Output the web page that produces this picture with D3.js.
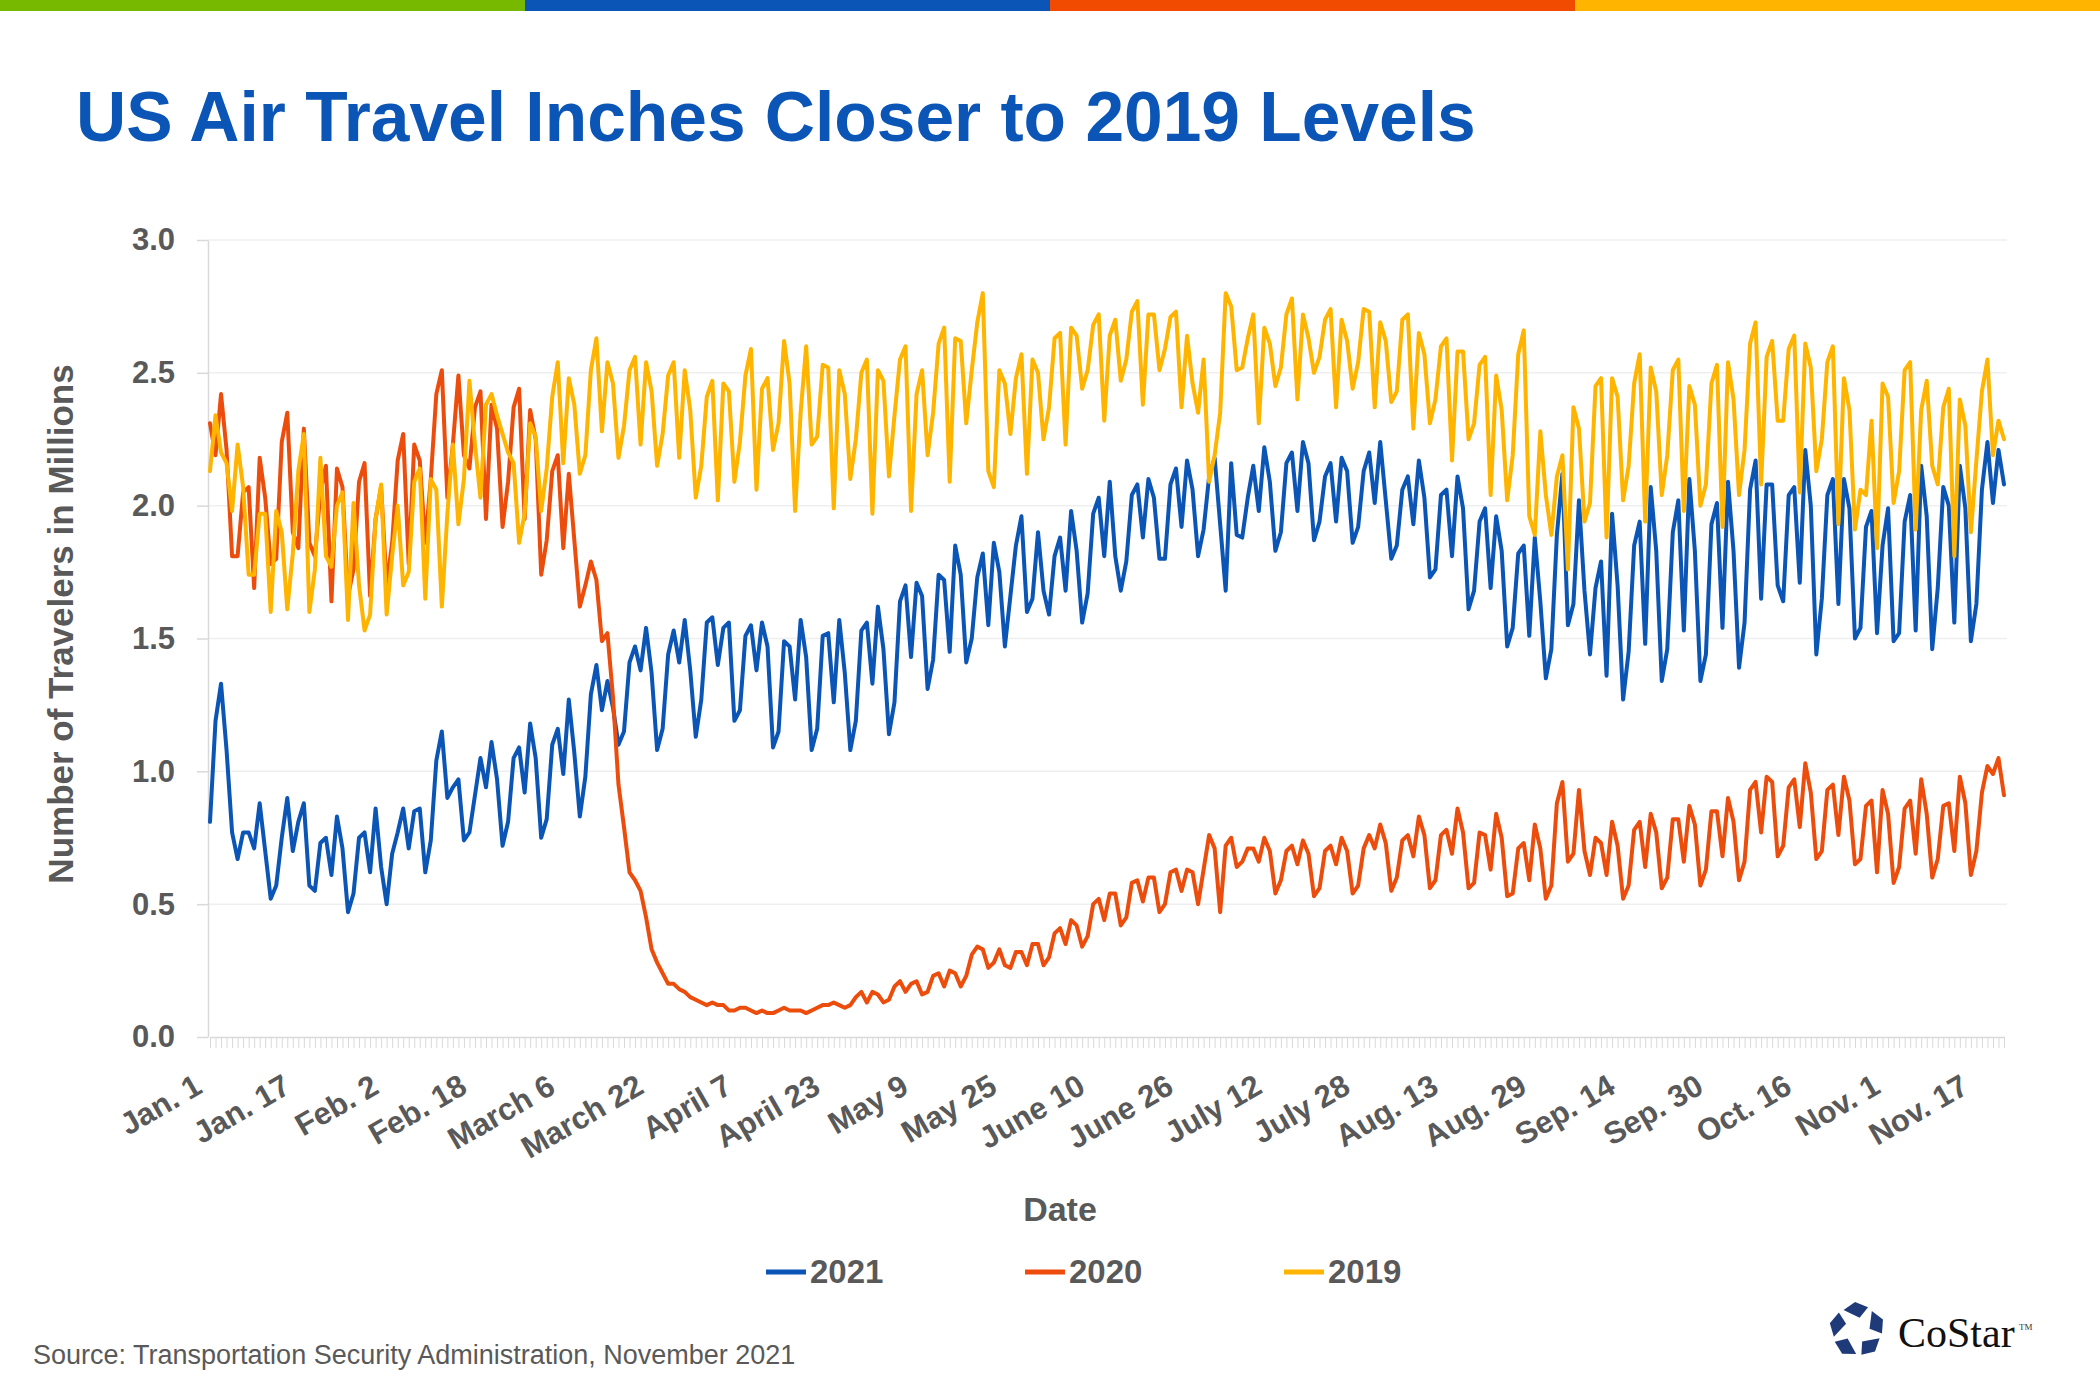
<!DOCTYPE html>
<html><head><meta charset="utf-8">
<script src="https://cdn.jsdelivr.net/npm/d3@7"></script>
<style>
body{margin:0;background:#fff;}
</style>
</head><body>
<svg id="chart" width="2100" height="1400" style="font-family:'Liberation Sans',Arial,Helvetica,sans-serif"></svg>
<script>
// ---------------- DATA ----------------
const titleText = "US Air Travel Inches Closer to 2019 Levels";
const tickLabels = ["Jan. 1","Jan. 17","Feb. 2","Feb. 18","March 6","March 22","April 7","April 23","May 9","May 25","June 10","June 26","July 12","July 28","Aug. 13","Aug. 29","Sep. 14","Sep. 30","Oct. 16","Nov. 1","Nov. 17"];
const tickStepDays = 16;
const yTicks = [0, 0.5, 1.0, 1.5, 2.0, 2.5, 3.0];
const seriesNames = ["2021", "2020", "2019"];
const seriesColors = ["#0a55b5", "#ec4d0c", "#ffb400"];
const topBarColors = ["#76b900", "#0a55b5", "#f04b00", "#ffb500"];

// daily travelers (millions), Jan 1 .. Nov 22
const v2021 = [
0.81,1.19,1.33,1.08,0.77,0.67,0.77,0.77,0.71,0.88,
0.70,0.52,0.57,0.75,0.90,0.70,0.81,0.88,0.57,0.55,
0.73,0.75,0.61,0.83,0.71,0.47,0.54,0.75,0.77,0.62,
0.86,0.64,0.50,0.69,0.77,0.86,0.71,0.85,0.86,0.62,
0.74,1.04,1.15,0.90,0.94,0.97,0.74,0.77,0.91,1.05,
0.94,1.11,0.97,0.72,0.81,1.05,1.09,0.92,1.18,1.05,
0.75,0.82,1.10,1.16,0.99,1.27,1.07,0.83,0.98,1.29,
1.40,1.23,1.34,1.24,1.10,1.15,1.41,1.47,1.38,1.54,
1.37,1.08,1.16,1.44,1.53,1.41,1.57,1.38,1.13,1.27,
1.56,1.58,1.40,1.54,1.56,1.19,1.23,1.51,1.55,1.38,
1.56,1.47,1.09,1.15,1.49,1.47,1.27,1.57,1.43,1.08,
1.16,1.51,1.52,1.26,1.57,1.37,1.08,1.19,1.53,1.56,
1.33,1.62,1.46,1.14,1.26,1.64,1.70,1.43,1.71,1.66,
1.31,1.42,1.74,1.72,1.45,1.85,1.74,1.41,1.50,1.73,
1.82,1.55,1.86,1.75,1.47,1.66,1.85,1.96,1.60,1.65,
1.90,1.68,1.59,1.81,1.88,1.68,1.98,1.83,1.56,1.67,
1.97,2.03,1.81,2.09,1.81,1.68,1.79,2.04,2.08,1.88,
2.10,2.03,1.80,1.80,2.08,2.14,1.92,2.17,2.06,1.81,
1.91,2.11,2.18,1.93,1.68,2.16,1.89,1.88,2.03,2.15,
1.98,2.22,2.09,1.83,1.90,2.16,2.20,1.98,2.24,2.16,
1.87,1.94,2.11,2.16,1.94,2.18,2.13,1.86,1.92,2.13,
2.20,2.01,2.24,2.02,1.80,1.85,2.06,2.11,1.93,2.17,
2.03,1.73,1.76,2.04,2.06,1.81,2.11,1.99,1.61,1.68,
1.94,1.99,1.69,1.96,1.83,1.47,1.54,1.82,1.85,1.51,
1.88,1.64,1.35,1.46,1.89,2.12,1.55,1.63,2.02,1.68,
1.44,1.69,1.79,1.36,1.97,1.70,1.27,1.45,1.85,1.94,
1.48,2.07,1.83,1.34,1.46,1.90,2.02,1.53,2.10,1.83,
1.34,1.44,1.93,2.01,1.54,2.09,1.83,1.39,1.56,2.06,
2.17,1.65,2.08,2.08,1.70,1.64,2.04,2.07,1.71,2.21,
2.00,1.44,1.65,2.04,2.10,1.63,2.10,1.99,1.50,1.54,
1.92,1.98,1.52,1.85,1.99,1.49,1.52,1.94,2.04,1.53,
2.15,1.96,1.46,1.69,2.07,2.00,1.56,2.15,1.99,1.49,
1.63,2.06,2.24,2.01,2.21,2.08
];
const v2020 = [
2.31,2.19,2.42,2.21,1.81,1.81,2.05,2.07,1.69,2.18,
2.03,1.78,1.80,2.24,2.35,1.90,1.84,2.29,1.86,1.81,
2.05,2.15,1.64,2.14,2.07,1.66,1.76,2.09,2.16,1.66,
1.95,2.07,1.70,1.86,2.17,2.27,1.78,2.23,2.17,1.86,
2.10,2.42,2.51,2.03,2.23,2.49,2.19,2.14,2.37,2.43,
1.95,2.38,2.29,1.92,2.09,2.37,2.44,1.95,2.36,2.25,
1.74,1.87,2.13,2.19,1.84,2.12,1.87,1.62,1.70,1.79,
1.72,1.49,1.52,1.28,0.95,0.79,0.62,0.59,0.55,0.45,
0.33,0.28,0.24,0.20,0.20,0.18,0.17,0.15,0.14,0.13,
0.12,0.13,0.12,0.12,0.10,0.10,0.11,0.11,0.10,0.09,
0.10,0.09,0.09,0.10,0.11,0.10,0.10,0.10,0.09,0.10,
0.11,0.12,0.12,0.13,0.12,0.11,0.12,0.15,0.17,0.13,
0.17,0.16,0.13,0.14,0.19,0.21,0.17,0.20,0.21,0.16,
0.17,0.23,0.24,0.19,0.25,0.24,0.19,0.23,0.31,0.34,
0.33,0.26,0.28,0.33,0.27,0.26,0.32,0.32,0.27,0.35,
0.35,0.27,0.30,0.39,0.41,0.35,0.44,0.42,0.34,0.38,
0.50,0.52,0.44,0.54,0.54,0.42,0.45,0.58,0.59,0.51,
0.60,0.60,0.47,0.50,0.62,0.63,0.55,0.63,0.62,0.50,
0.63,0.76,0.71,0.47,0.72,0.75,0.64,0.66,0.71,0.71,
0.66,0.75,0.70,0.54,0.59,0.70,0.72,0.65,0.74,0.69,
0.53,0.56,0.70,0.72,0.65,0.75,0.70,0.54,0.57,0.71,
0.76,0.71,0.80,0.73,0.55,0.60,0.74,0.76,0.68,0.83,
0.76,0.56,0.59,0.76,0.78,0.69,0.86,0.77,0.56,0.58,
0.77,0.76,0.63,0.84,0.75,0.53,0.54,0.71,0.73,0.59,
0.80,0.71,0.52,0.57,0.88,0.96,0.66,0.69,0.93,0.70,
0.61,0.75,0.73,0.61,0.81,0.72,0.52,0.57,0.78,0.81,
0.64,0.84,0.77,0.56,0.60,0.82,0.82,0.66,0.87,0.80,
0.57,0.63,0.85,0.85,0.68,0.90,0.81,0.59,0.66,0.93,
0.96,0.77,0.98,0.96,0.68,0.72,0.94,0.97,0.79,1.03,
0.92,0.67,0.70,0.93,0.95,0.76,0.98,0.89,0.65,0.67,
0.87,0.89,0.62,0.93,0.84,0.58,0.64,0.86,0.89,0.69,
0.97,0.84,0.60,0.67,0.87,0.88,0.70,0.98,0.88,0.61,
0.70,0.92,1.02,0.99,1.05,0.91
];
const v2019 = [
2.13,2.34,2.20,2.16,1.98,2.23,2.07,1.74,1.74,1.97,
1.97,1.60,1.98,1.90,1.61,1.82,2.13,2.27,1.60,1.76,
2.18,1.81,1.77,2.00,2.05,1.57,2.01,1.70,1.53,1.59,
1.95,2.08,1.59,1.81,2.00,1.70,1.75,2.09,2.14,1.65,
2.10,2.06,1.62,1.97,2.23,1.93,2.10,2.47,2.23,2.03,
2.38,2.42,2.34,2.27,2.20,2.16,1.86,1.97,2.31,2.26,
1.98,2.14,2.41,2.54,2.16,2.48,2.38,2.12,2.19,2.51,
2.63,2.28,2.54,2.46,2.18,2.30,2.51,2.56,2.23,2.54,
2.43,2.15,2.27,2.49,2.54,2.18,2.51,2.36,2.03,2.15,
2.41,2.47,2.02,2.46,2.43,2.09,2.24,2.49,2.59,2.06,
2.44,2.48,2.21,2.31,2.62,2.46,1.98,2.35,2.60,2.23,
2.26,2.53,2.52,1.99,2.51,2.42,2.10,2.25,2.50,2.55,
1.97,2.51,2.47,2.11,2.34,2.55,2.60,1.98,2.42,2.51,
2.19,2.35,2.61,2.67,2.09,2.63,2.62,2.31,2.51,2.69,
2.80,2.13,2.07,2.51,2.46,2.27,2.48,2.57,2.12,2.55,
2.50,2.25,2.37,2.63,2.65,2.23,2.67,2.64,2.44,2.51,
2.68,2.72,2.32,2.64,2.70,2.47,2.55,2.73,2.77,2.38,
2.72,2.72,2.51,2.59,2.71,2.73,2.37,2.64,2.46,2.35,
2.55,2.09,2.19,2.35,2.80,2.75,2.51,2.52,2.63,2.72,
2.31,2.67,2.61,2.45,2.52,2.72,2.78,2.40,2.72,2.63,
2.50,2.56,2.70,2.74,2.37,2.70,2.62,2.44,2.54,2.74,
2.73,2.37,2.69,2.62,2.39,2.43,2.70,2.72,2.29,2.65,
2.57,2.31,2.40,2.60,2.63,2.17,2.58,2.58,2.25,2.31,
2.53,2.56,2.04,2.49,2.36,2.02,2.19,2.57,2.66,1.96,
1.89,2.28,2.04,1.89,2.11,2.19,1.76,2.37,2.29,1.94,
2.01,2.45,2.48,1.88,2.48,2.41,2.02,2.15,2.46,2.57,
1.94,2.52,2.43,2.04,2.19,2.51,2.55,1.98,2.45,2.38,
2.00,2.08,2.46,2.53,1.92,2.54,2.40,2.04,2.21,2.61,
2.69,2.08,2.56,2.62,2.32,2.32,2.59,2.64,2.05,2.61,
2.52,2.13,2.25,2.54,2.60,1.93,2.48,2.36,1.91,2.06,
2.04,2.32,1.84,2.46,2.41,2.01,2.13,2.51,2.54,1.91,
2.36,2.47,2.15,2.08,2.37,2.44,1.81,2.40,2.30,1.90,
2.17,2.43,2.55,2.19,2.32,2.25
];
const seriesValues = [v2021, v2020, v2019];

// ---------------- DRAW ----------------
const W = 2100, H = 1400;
const gray = "#595959";
const SANS = "'Liberation Sans', Arial, Helvetica, sans-serif";
const SERIF = "'Liberation Serif', 'Times New Roman', serif";
const svg = d3.select("#chart");
svg.append("rect").attr("width", W).attr("height", H).attr("fill", "#fff");

// top colour bar
const bx = d3.scaleBand().domain(d3.range(topBarColors.length)).range([0, W]);
svg.append("g").selectAll("rect").data(topBarColors).join("rect")
  .attr("x", (d, i) => bx(i)).attr("y", 0)
  .attr("width", bx.bandwidth() + 0.5).attr("height", 11)
  .attr("fill", d => d);

// title
svg.append("text").attr("x", 76).attr("y", 141)
  .attr("font-size", 69.5).attr("font-weight", "bold").attr("fill", "#0a55b5")
  .style("font-family", SANS)
  .text(titleText);

const N = v2021.length;
const x = d3.scaleLinear().domain([0, N - 1]).range([210, 2004]);
const y = d3.scaleLinear().domain([0, 3]).range([1037, 240]);

// gridlines
svg.append("g").selectAll("line").data(yTicks.filter(d => d > 0)).join("line")
  .attr("x1", 208).attr("x2", 2007)
  .attr("y1", d => y(d)).attr("y2", d => y(d))
  .attr("stroke", "#efefef").attr("stroke-width", 1.5);

// y axis
const gy = svg.append("g").attr("transform", "translate(208,0)")
  .call(d3.axisLeft(y).tickValues(yTicks).tickFormat(d3.format(".1f"))
    .tickSize(11).tickSizeOuter(0).tickPadding(22));
gy.select(".domain").attr("stroke", "#d9d9d9").attr("stroke-width", 1.5);
gy.selectAll(".tick line").attr("stroke", "#d9d9d9").attr("stroke-width", 1.5);
gy.selectAll(".tick text").attr("font-size", 31).attr("font-weight", "bold")
  .attr("fill", gray).style("font-family", SANS);

// x axis (daily tick marks)
const gx = svg.append("g").attr("transform", `translate(0,${y(0)})`)
  .call(d3.axisBottom(x).tickValues(d3.range(0, N)).tickSize(11).tickSizeOuter(0).tickFormat(""));
gx.select(".domain").attr("stroke", "#d9d9d9").attr("stroke-width", 1.5);
gx.selectAll(".tick line").attr("stroke", "#d9d9d9").attr("stroke-width", 1);

// x labels
svg.append("g").selectAll("text").data(tickLabels).join("text")
  .attr("transform", (d, i) => `translate(${x(i * tickStepDays) - 6},${y(0) + 55}) rotate(-30)`)
  .attr("text-anchor", "end").attr("font-size", 31).attr("font-weight", "bold").attr("fill", gray)
  .style("font-family", SANS)
  .text(d => d);

// axis titles
svg.append("text").attr("x", 1060).attr("y", 1221).attr("text-anchor", "middle")
  .attr("font-size", 34).attr("font-weight", "bold").attr("fill", gray)
  .style("font-family", SANS).text("Date");
svg.append("text").attr("transform", "translate(73,624) rotate(-90)").attr("text-anchor", "middle")
  .attr("font-size", 35).attr("font-weight", "bold").attr("fill", gray)
  .style("font-family", SANS)
  .text("Number of Travelers in Millions");

// lines
const line = d3.line().x((d, i) => x(i)).y(d => y(d));
svg.append("g").selectAll("path").data(seriesValues).join("path")
  .attr("d", d => line(d)).attr("fill", "none")
  .attr("stroke", (d, i) => seriesColors[i]).attr("stroke-width", 4)
  .attr("stroke-linejoin", "round").attr("stroke-linecap", "round");

// legend
const lg = svg.append("g").selectAll("g").data(seriesNames).join("g")
  .attr("transform", (d, i) => `translate(${766 + i * 259},1272)`);
lg.append("line").attr("x1", 0).attr("x2", 40).attr("y1", 0).attr("y2", 0)
  .attr("stroke", (d, i) => seriesColors[i]).attr("stroke-width", 5);
lg.append("text").attr("x", 44).attr("y", 11).attr("font-size", 33).attr("font-weight", "bold")
  .attr("fill", gray).style("font-family", SANS).text(d => d);

// source
svg.append("text").attr("x", 33).attr("y", 1364).attr("font-size", 27).attr("fill", gray)
  .style("font-family", SANS)
  .text("Source: Transportation Security Administration, November 2021");

// CoStar logo
const cx = 1857, cy = 1330, R = 28;
const P = (a, r) => [cx + r * Math.cos(a * Math.PI / 180), cy + r * Math.sin(a * Math.PI / 180)];
const pieces = d3.range(5).map(k => {
  const a = -90 + 72 * k;
  return [P(a - 34, R * 0.86), P(a - 4, R), P(a + 26, R * 0.9), P(a + 12, R * 0.45)];
});
svg.append("g").selectAll("path").data(pieces).join("path")
  .attr("d", d => "M" + d.map(p => p.join(",")).join("L") + "Z")
  .attr("fill", "#1f3a78");
svg.append("text").attr("x", 1898).attr("y", 1347).attr("font-size", 42)
  .style("font-family", SERIF).attr("fill", "#111")
  .text("CoStar");
svg.append("text").attr("x", 2019).attr("y", 1330).attr("font-size", 9)
  .style("font-family", SERIF).attr("fill", "#333").text("TM");
</script>
</body></html>
